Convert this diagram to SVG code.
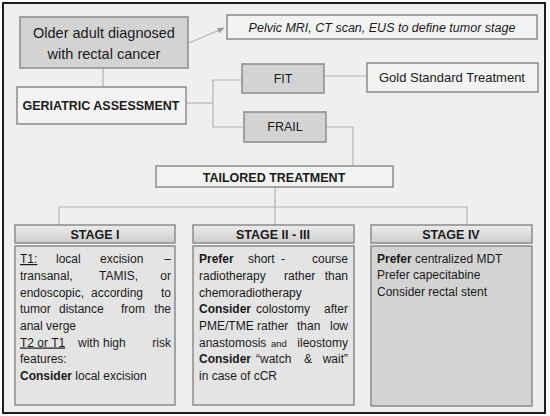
<svg xmlns="http://www.w3.org/2000/svg" width="550" height="416" viewBox="0 0 550 416">
<defs>
<linearGradient id="hdr" x1="0" y1="0" x2="0" y2="1">
<stop offset="0" stop-color="#ececec"/>
<stop offset="1" stop-color="#cdcdcd"/>
</linearGradient>
<marker id="arr" viewBox="0 0 10 10" refX="9" refY="5" markerWidth="6" markerHeight="6" orient="auto">
<path d="M0,1 L10,5 L0,9 z" fill="#9a9a9a"/>
</marker>
</defs>
<style>
text{font-family:"Liberation Sans",Arial,sans-serif;fill:#1a1a1a}
.box{stroke:#8c8c8c;stroke-width:1.5}
.g{fill:#d3d3d3}
.w{fill:#f3f3f3}
.b{fill:#e4e4e4}
.h{fill:url(#hdr)}
.c{stroke:#b3b3b3;stroke-width:1.2;fill:none}
.t{font-size:12px}
.bold{font-weight:bold}
.hd{font-size:12.5px;font-weight:bold;text-anchor:middle}
.e{text-anchor:end}
</style>
<rect x="3" y="3" width="542" height="410" fill="#efefef" stroke="#1e1e1e" stroke-width="2"/>

<g id="connectors">
<line class="c" x1="103" y1="68" x2="103" y2="87"/>
<line class="c" x1="189" y1="43" x2="224" y2="28" stroke="#9a9a9a" marker-end="url(#arr)"/>
<polyline class="c" points="186,103 213,103"/>
<polyline class="c" points="242,80 213,80 213,127 244,127"/>
<line class="c" x1="324" y1="76" x2="367" y2="76"/>
<polyline class="c" points="326,127 353,127 353,166"/>
<line class="c" x1="275" y1="187" x2="275" y2="225"/>
<polyline class="c" points="59,225 59,207 467,207 467,225"/>
</g>

<g id="older">
<rect class="box g" x="20" y="17" width="168" height="51"/>
<text x="104" y="38" font-size="14.5" text-anchor="middle">Older adult diagnosed</text>
<text x="104" y="59" font-size="14.5" text-anchor="middle">with rectal cancer</text>
</g>

<g id="imaging">
<rect class="box w" x="227" y="15" width="310" height="24"/>
<text x="382" y="31.5" font-size="12.5" font-style="italic" text-anchor="middle">Pelvic MRI, CT scan, EUS to define tumor stage</text>
</g>

<g id="geriatric">
<rect class="box w" x="17" y="87" width="169" height="37"/>
<text x="101" y="110" font-size="12.5" font-weight="bold" text-anchor="middle">GERIATRIC ASSESSMENT</text>
</g>

<g id="fit">
<rect class="box g" x="242" y="64" width="82" height="29"/>
<text x="283" y="83" font-size="12.5" text-anchor="middle">FIT</text>
</g>

<g id="gold">
<rect class="box w" x="367" y="63" width="171" height="29"/>
<text x="452" y="82" font-size="13" text-anchor="middle">Gold Standard Treatment</text>
</g>

<g id="frail">
<rect class="box g" x="244" y="112" width="82" height="30"/>
<text x="285" y="131" font-size="12.5" text-anchor="middle">FRAIL</text>
</g>

<g id="tailored">
<rect class="box w" x="156" y="166" width="237" height="21"/>
<text x="274" y="181.5" font-size="12.5" font-weight="bold" text-anchor="middle">TAILORED TREATMENT</text>
</g>

<g id="stage1">
<rect class="box h" x="15" y="225" width="160" height="18"/>
<text class="hd" x="95" y="238.5">STAGE I</text>
<rect class="box b" x="15" y="246" width="160" height="159"/>
<text class="t" y="263"><tspan x="20" text-decoration="underline">T1:</tspan><tspan x="56">local</tspan><tspan x="100">excision</tspan></text>
<text class="t e" x="171" y="263">–</text>
<text class="t" y="280"><tspan x="20">transanal,</tspan><tspan x="99">TAMIS,</tspan></text>
<text class="t e" x="171" y="280">or</text>
<text class="t" y="296.5"><tspan x="20">endoscopic,</tspan><tspan x="91">according</tspan></text>
<text class="t e" x="171" y="296.5">to</text>
<text class="t" y="313"><tspan x="20">tumor</tspan><tspan x="59">distance</tspan><tspan x="121">from</tspan></text>
<text class="t e" x="171" y="313">the</text>
<text class="t" x="20" y="330">anal verge</text>
<text class="t" y="346.5"><tspan x="20" text-decoration="underline">T2 or T1</tspan><tspan x="78">with</tspan><tspan x="103">high</tspan></text>
<text class="t e" x="171" y="346.5">risk</text>
<text class="t" x="20" y="363">features:</text>
<text class="t" x="20" y="380"><tspan class="bold">Consider</tspan> local excision</text>
</g>

<g id="stage2">
<rect class="box h" x="193" y="225" width="161" height="18"/>
<text class="hd" x="273" y="238.5">STAGE II - III</text>
<rect class="box b" x="193" y="246" width="161" height="159"/>
<text class="t" y="263"><tspan x="199" class="bold">Prefer</tspan><tspan x="248">short</tspan><tspan x="281">-</tspan></text>
<text class="t e" x="348" y="263">course</text>
<text class="t" y="280"><tspan x="199">radiotherapy</tspan><tspan x="284">rather</tspan></text>
<text class="t e" x="348" y="280">than</text>
<text class="t" x="199" y="296.5">chemoradiotherapy</text>
<text class="t" y="313"><tspan x="199" class="bold">Consider</tspan><tspan x="256">colostomy</tspan></text>
<text class="t e" x="348" y="313">after</text>
<text class="t" y="330"><tspan x="199">PME/TME</tspan><tspan x="257">rather</tspan><tspan x="297">than</tspan></text>
<text class="t e" x="348" y="330">low</text>
<text class="t" y="346.5"><tspan x="199">anastomosis</tspan><tspan x="271" font-size="9.5">and</tspan></text>
<text class="t e" x="348" y="346.5">ileostomy</text>
<text class="t" y="363"><tspan x="199" class="bold">Consider</tspan><tspan x="256">“watch</tspan><tspan x="304">&amp;</tspan></text>
<text class="t e" x="348" y="363">wait”</text>
<text class="t" x="199" y="380">in case of cCR</text>
</g>

<g id="stage4">
<rect class="box h" x="371" y="225" width="161" height="18"/>
<text class="hd" x="451" y="238.5">STAGE IV</text>
<rect class="box g" x="371" y="246" width="161" height="160"/>
<text class="t" x="377" y="262.5"><tspan class="bold">Prefer</tspan> centralized MDT</text>
<text class="t" x="377" y="279">Prefer capecitabine</text>
<text class="t" x="377" y="296">Consider rectal stent</text>
</g>
</svg>
